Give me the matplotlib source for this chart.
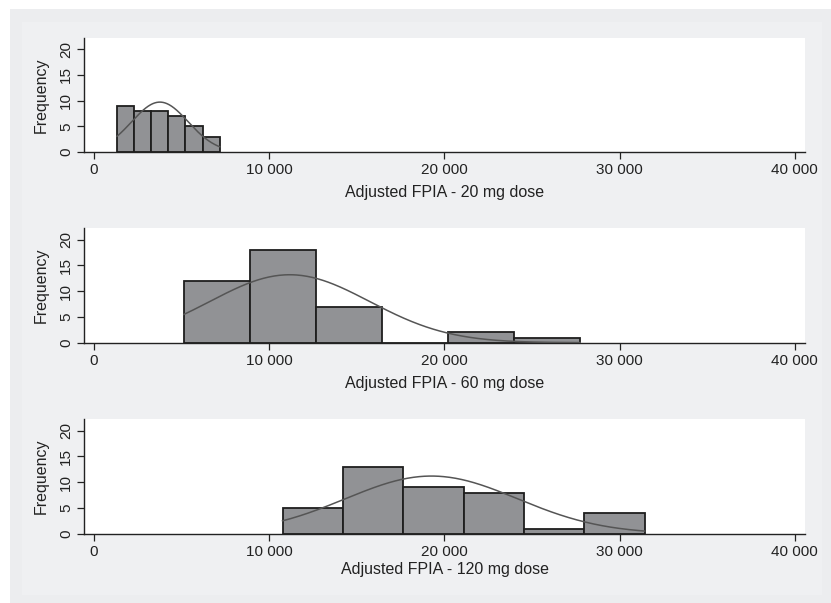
import numpy as np
import matplotlib
matplotlib.use("Agg")
import matplotlib.pyplot as plt
from matplotlib.ticker import FuncFormatter
from matplotlib.patches import Rectangle

plt.rcParams['font.family'] = ['Liberation Sans', 'DejaVu Sans']

doses = ["20 mg", "60 mg", "120 mg"]
bin_start = [1310, 5130, 10760]
bin_width = [978, 3770, 3445]
counts_20 = [9, 8, 8, 7, 5, 3]
counts_60 = [12, 18, 7, 0, 2, 1]
counts_120 = [5, 13, 9, 8, 1, 4]
all_counts = [counts_20, counts_60, counts_120]
# fitted normal curve parameters (estimated)
norm_mean = [3760, 11170, 19260]
norm_sd = [1610, 4560, 4910]

x_ticks = [0, 10000, 20000, 30000, 40000]
y_ticks = [0, 5, 10, 15, 20]

bar_col = "#919295"
edge_col = "#1e1e1e"
curve_col = "#555555"
bg_col = "#eff0f2"
txt_col = "#222222"

fig = plt.figure(figsize=(8.31, 6.03), dpi=100)
fig.patch.set_facecolor("white")
fig.patches.append(Rectangle((10/831, 0), 821/831, 594/603, transform=fig.transFigure,
                             facecolor="#ecedef", edgecolor="none", zorder=-2))
fig.patches.append(Rectangle((22/831, 8/603), 800/831, 573/603, transform=fig.transFigure,
                             facecolor=bg_col, edgecolor="none", zorder=-1))

bottoms = [0.7479, 0.4317, 0.1149]
fmt = FuncFormatter(lambda v, p: f"{v:,.0f}".replace(",", " "))

for i in range(3):
    ax = fig.add_axes([0.1011, bottoms[i], 0.8676, 0.1896])
    counts = all_counts[i]
    n = len(counts)
    edges = bin_start[i] + bin_width[i] * np.arange(n + 1)
    ax.bar(edges[:-1], counts, width=bin_width[i], align="edge",
           color=bar_col, edgecolor=edge_col, linewidth=1.3, zorder=2)
    xs = np.linspace(edges[0], edges[-1], 300)
    total = sum(counts)
    ys = total * bin_width[i] / (norm_sd[i] * np.sqrt(2 * np.pi)) * \
        np.exp(-0.5 * ((xs - norm_mean[i]) / norm_sd[i]) ** 2)
    ax.plot(xs, ys, color=curve_col, linewidth=1.1, zorder=3)

    ax.set_xlim(-571, 40585)
    ax.set_ylim(0, 22.2)
    ax.set_xticks(x_ticks)
    ax.xaxis.set_major_formatter(fmt)
    ax.set_yticks(y_ticks)
    for lab in ax.get_yticklabels():
        lab.set_rotation(90)
        lab.set_va("center")
    ax.tick_params(axis="both", labelsize=11, length=5, width=0.9,
                   color=txt_col, labelcolor=txt_col, pad=3)
    ax.spines["top"].set_visible(False)
    ax.spines["right"].set_visible(False)
    for s in ["left", "bottom"]:
        ax.spines[s].set_linewidth(1.0)
        ax.spines[s].set_color(txt_col)
    ax.set_facecolor("white")
    ax.set_ylabel("Frequency", fontsize=11.5, color=txt_col, labelpad=7)
    ax.set_xlabel("Adjusted FPIA - " + doses[i] + " dose", fontsize=11.5,
                  color=txt_col, labelpad=6 if i < 2 else 2)

fig.savefig("out.png", dpi=100, facecolor=fig.get_facecolor())
